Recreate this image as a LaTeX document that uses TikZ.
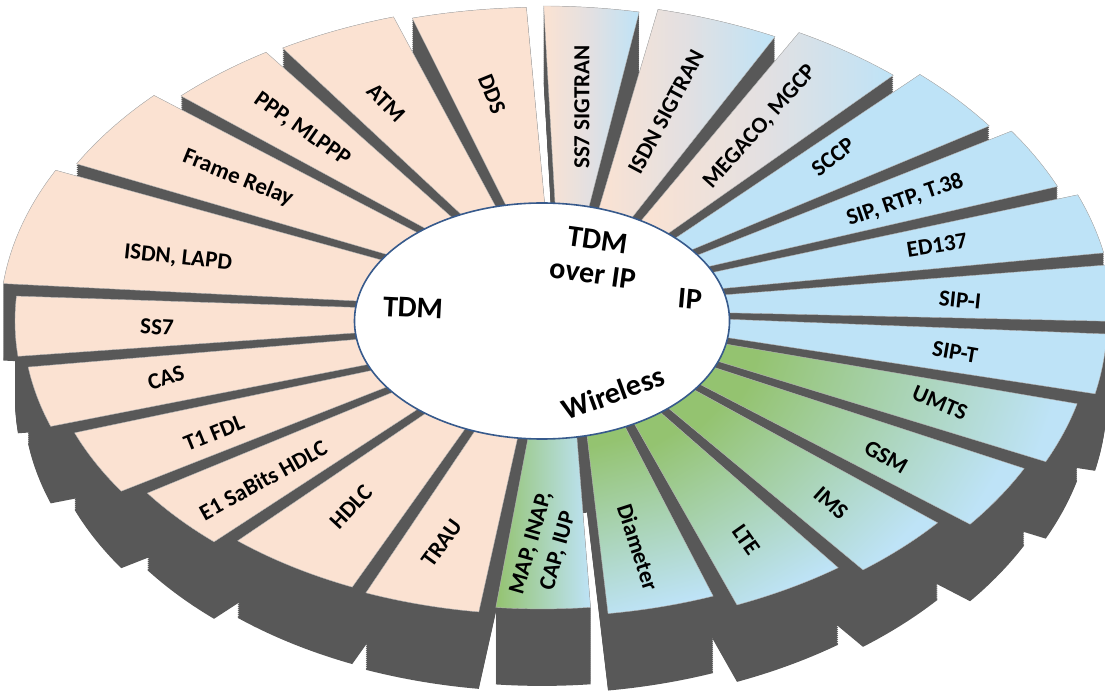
\documentclass[tikz,border=0pt]{standalone}
\usepackage{fontspec}
\setmainfont{Carlito}
\definecolor{tdmc}{RGB}{251,226,210}
\definecolor{ipc}{RGB}{190,227,247}
\definecolor{grn}{RGB}{148,195,112}
\definecolor{wallc}{RGB}{88,88,88}
\definecolor{hubline}{RGB}{55,90,140}
\definecolor{tipmid}{RGB}{226,224,226}
\definecolor{edgec}{RGB}{180,180,180}
\begin{document}
\begin{tikzpicture}[x=1pt,y=1pt,
  tdmS/.style={fill=tdmc},
  ipS/.style={fill=ipc},
  tipS/.style={left color=tdmc,right color=ipc,middle color=tipmid},
  wlS/.style={top color=ipc,bottom color=grn,shading angle=\sa},
  mapS/.style={left color=grn,right color=ipc},
  lab/.style={font=\bfseries\fontsize{23}{28}\selectfont,inner sep=0pt,align=center},
  hublab/.style={font=\bfseries\fontsize{30}{34}\selectfont,inner sep=0pt,align=center}]
\useasboundingbox (0,0) rectangle (1105,691);
\def\seglist{-95.9/-77.7/-96.8/-82.9/457/mapS,
-77.7/-62.1/-82.9/-67.6/469/wlS,
-62.1/-49.2/-67.6/-51.9/491/wlS,
-49.2/-34.1/-51.9/-38.0/509/wlS,
-34.1/-21.6/-38.0/-24.9/536/wlS,
-21.6/-9.7/-24.9/-12.8/551/wlS,
-9.7/2.4/-12.8/-1.1/565/ipS,
2.4/14.4/-1.1/9.9/585/ipS,
14.4/25.9/9.9/21.5/572/ipS,
25.9/35.5/21.5/33.7/558/ipS,
35.5/46.2/33.7/47.0/544/ipS,
46.2/59.7/47.0/61.7/525/tipS,
59.7/73.9/61.7/77.8/508/tipS,
73.9/87.6/77.8/90.8/500/tipS,
87.6/102.7/90.8/106.1/498/tdmS,
102.7/117.1/106.1/121.9/505/tdmS,
117.1/130.0/121.9/136.3/508/tdmS,
130.0/147.3/136.3/152.8/528/tdmS,
147.3/171.8/152.8/174.7/542/tdmS,
171.8/187.4/174.7/187.1/527/tdmS,
187.4/203.2/187.1/199.8/519/tdmS,
203.2/215.6/199.8/213.7/500/tdmS,
215.6/230.0/213.7/227.9/480/tdmS,
230.0/247.4/227.9/246.8/463/tdmS,
247.4/264.1/246.8/263.2/466/tdmS}
\newcommand\mysegpath{(\pa:187.5pt and 118pt) arc[start angle=\pa,end angle=\pb,x radius=187.5pt,y radius=118pt] -- (\qb:\R pt and \Ry pt) arc[start angle=\qb,end angle=\qa,x radius=\R pt,y radius=\Ry pt] -- cycle}
\begin{scope}[shift={(542,370)}]
  % side walls (extrusion)
  \fill[wallc] (187.5,0) arc[start angle=0,end angle=180,x radius=187.5pt,y radius=118pt]
    -- (-187.5,-77) arc[start angle=180,end angle=360,x radius=187.5pt,y radius=118pt] -- cycle;
  \foreach \ia/\ib/\oa/\ob/\R/\sty in \seglist {
    \pgfmathsetmacro\pa{\ia+1.6}\pgfmathsetmacro\pb{\ib-1.6}
    \pgfmathsetmacro\qa{\oa+1.0}\pgfmathsetmacro\qb{\ob-1.0}
    \pgfmathsetmacro\Ry{0.63*\R}
    \foreach \t in {0,2,...,76,77}{\fill[wallc,yshift=-\t pt] \mysegpath;}
  }
  % top faces
  \foreach \ia/\ib/\oa/\ob/\R/\sty in \seglist {
    \pgfmathsetmacro\pa{\ia+1.6}\pgfmathsetmacro\pb{\ib-1.6}
    \pgfmathsetmacro\qa{\oa+1.0}\pgfmathsetmacro\qb{\ob-1.0}
    \pgfmathsetmacro\Ry{0.63*\R}
    \pgfmathsetmacro\sa{(\qa+\qb)/2-90}
    \path[\sty] \mysegpath;
    \draw[edgec,line width=0.4pt] \mysegpath;
  }
  % hub
  \fill[white] (0,0) ellipse[x radius=187.5pt,y radius=118pt];
  \draw[hubline,line width=1.6pt] (0,0) ellipse[x radius=187.5pt,y radius=118pt];
\end{scope}
% segment labels
\node[lab,rotate=-6]  (lisdn)  at (178,433) {ISDN, LAPD};
\node[lab,rotate=-3]  (lss7)   at (157,364) {SS7};
\node[lab,rotate=17]  (lcas)   at (166,313) {CAS};
\node[lab,rotate=22]  (lt1)    at (214,258) {T1 FDL};
\node[lab,rotate=29]  (le1)    at (263,211) {E1 SaBits HDLC};
\node[lab,rotate=47]  (lhdlc)  at (351,184) {HDLC};
\node[lab,rotate=54]  (ltrau)  at (442,148) {TRAU};
\node[lab,rotate=74]  (lmap)   at (545,144) {MAP, INAP,\\CAP, IUP};
\node[lab,rotate=-72] (ldia)   at (638,144) {Diameter};
\node[lab,rotate=-55] (llte)   at (746,151) {LTE};
\node[lab,rotate=-42] (lims)   at (831,188) {IMS};
\node[lab,rotate=-30] (lgsm)   at (886,234) {GSM};
\node[lab,rotate=-23] (lumts)  at (940,288) {UMTS};
\node[lab,rotate=-10] (lsipt)  at (955,339) {SIP-T};
\node[lab,rotate=-6]  (lsipi)  at (960,391) {SIP-I};
\node[lab,rotate=9]   (led)    at (937,446) {ED137};
\node[lab,rotate=19]  (lsip)   at (905,491) {SIP, RTP, T.38};
\node[lab,rotate=38]  (lsccp)  at (833,534) {SCCP};
\node[lab,rotate=48]  (lmeg)   at (760,564) {MEGACO, MGCP};
\node[lab,rotate=62]  (lisdns) at (666,579) {ISDN SIGTRAN};
\node[lab,rotate=90]  (lss7s)  at (582,584) {SS7 SIGTRAN};
\node[lab,rotate=-68] (ldds)   at (492,597) {DDS};
\node[lab,rotate=-45] (latm)   at (386,588) {ATM};
\node[lab,rotate=-35] (lppp)   at (302,561) {PPP, MLPPP};
\node[lab,rotate=-22] (lfr)    at (238,513) {Frame Relay};
% hub labels
\node[hublab,rotate=-3] (htdm)  at (413,383) {TDM};
\node[hublab,rotate=-8] (htoip) at (595,434) {TDM\\over IP};
\node[hublab,rotate=-5] (hip)   at (690,392) {IP};
\node[hublab,rotate=20] (hwl)   at (613,298) {Wireless};
\end{tikzpicture}
\end{document}
